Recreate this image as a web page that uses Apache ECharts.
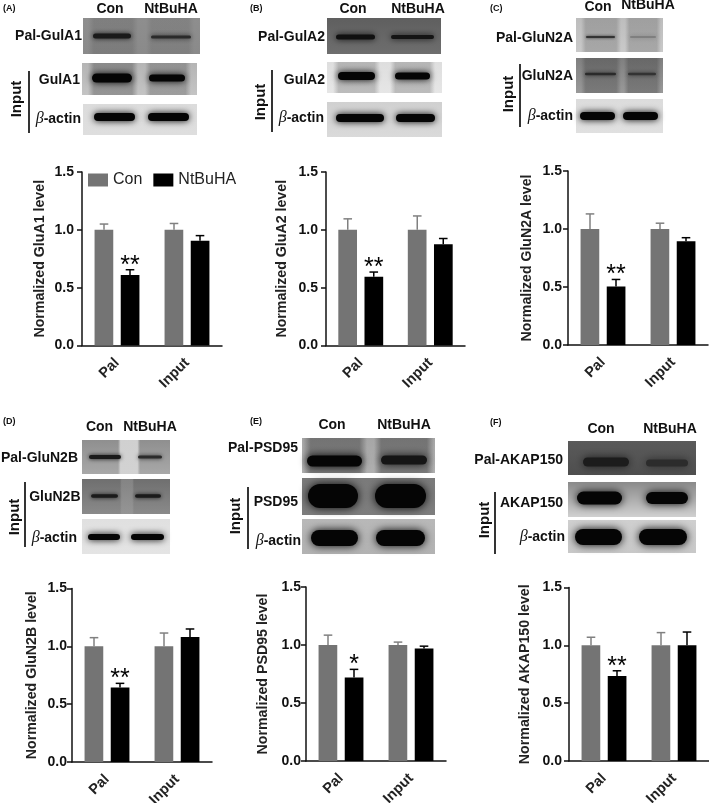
<!DOCTYPE html>
<html><head><meta charset="utf-8">
<style>html,body{margin:0;padding:0;background:#fff}#c{width:709px;height:803px}</style>
<script src="https://cdn.jsdelivr.net/npm/echarts@6/dist/echarts.min.js"></script>
</head><body><div id="c"></div>
<script>
// ---- data ----
const categories = ['Pal', 'Input'];
const yTicks = [0, 0.5, 1.0, 1.5];
const seriesNames = ['Con', 'NtBuHA'];

const gluA1Con = [1.0, 1.0],   gluA1Nt = [0.61, 0.905];
const gluA2Con = [1.0, 1.0],   gluA2Nt = [0.595, 0.875];
const gluN2ACon = [1.0, 1.0],  gluN2ANt = [0.505, 0.895];
const gluN2BCon = [1.0, 1.0],  gluN2BNt = [0.645, 1.08];
const psd95Con = [1.0, 1.0],   psd95Nt = [0.72, 0.97];
const akap150Con = [1.0, 1.0], akap150Nt = [0.735, 1.0];

const gluA1ConTop = [1.05, 1.055],  gluA1NtTop = [0.655, 0.95];
const gluA2ConTop = [1.095, 1.12],  gluA2NtTop = [0.635, 0.925];
const gluN2AConTop = [1.13, 1.05],  gluN2ANtTop = [0.565, 0.925];
const gluN2BConTop = [1.075, 1.115],gluN2BNtTop = [0.68, 1.15];
const psd95ConTop = [1.085, 1.025], psd95NtTop = [0.79, 0.99];
const akap150ConTop = [1.07, 1.11], akap150NtTop = [0.78, 1.115];

const gluA1Stars = ['**', ''], gluA2Stars = ['**', ''], gluN2AStars = ['**', ''];
const gluN2BStars = ['**', ''], psd95Stars = ['*', ''], akap150Stars = ['**', ''];

const yNames = ['Normalized GluA1 level','Normalized GluA2 level','Normalized GluN2A level',
                'Normalized GluN2B level','Normalized PSD95 level','Normalized AKAP150 level'];

// ---- layout of the plots ----
const panels = [
 {l:82,  t:172, w:140, h:173.5, gap:35, fs:14.2, m:8, con:gluA1Con,  nt:gluA1Nt,  ct:gluA1ConTop,  nb:gluA1NtTop,  s:gluA1Stars},
 {l:326, t:172, w:139, h:173.5, gap:37, fs:14.2, m:8, con:gluA2Con,  nt:gluA2Nt,  ct:gluA2ConTop,  nb:gluA2NtTop,  s:gluA2Stars},
 {l:568, t:171, w:140, h:174,   gap:34, fs:14.1, m:6, con:gluN2ACon, nt:gluN2ANt, ct:gluN2AConTop, nb:gluN2ANtTop, s:gluN2AStars},
 {l:72,  t:588.5,w:140,h:173.5, gap:33, fs:14.2, m:5, con:gluN2BCon, nt:gluN2BNt, ct:gluN2BConTop, nb:gluN2BNtTop, s:gluN2BStars},
 {l:306, t:587, w:140, h:174,   gap:36, fs:14.2, m:5, con:psd95Con,  nt:psd95Nt,  ct:psd95ConTop,  nb:psd95NtTop,  s:psd95Stars},
 {l:569, t:587.5,w:140,h:173.5, gap:37, fs:14.2, m:7, con:akap150Con,nt:akap150Nt,ct:akap150ConTop,nb:akap150NtTop,s:akap150Stars}
];
const GREY = '#747474', BLACK = '#000';
const FONT = '"Liberation Sans", Arial, sans-serif';
const BAR = 18.7, OFF = 13;

const grid=[],xAxis=[],yAxis=[],series=[];
function errRender(off,color){
  return function(params,api){
    const p = api.coord([api.value(0),api.value(1)]);
    const b = api.coord([api.value(0),api.value(2)]);
    const x = p[0]+off, y = p[1];
    const st = {stroke:color,lineWidth:1.5,fill:null};
    const kids = [
      {type:'line',shape:{x1:x,y1:y,x2:x,y2:b[1]},style:st},
      {type:'line',shape:{x1:x-4.3,y1:y,x2:x+4.3,y2:y},style:st}
    ];
    const sign = api.value(3);
    if(sign) kids.push({type:'text',style:{x:x,y:y-4,text:sign,fill:'#000',
        font:'400 25px '+FONT,align:'center',verticalAlign:'middle'}});
    return {type:'group',children:kids};
  };
}
panels.forEach((p,i)=>{
  grid.push({left:p.l,top:p.t,width:p.w,height:p.h,containLabel:false,outerBoundsMode:'none'});
  xAxis.push({gridIndex:i,type:'category',data:categories,
    axisLine:{lineStyle:{color:'#111',width:1.5}},
    axisTick:{alignWithLabel:true,length:5,lineStyle:{color:'#111',width:1.5}},
    axisLabel:{rotate:45,margin:15,interval:0,color:'#222',fontFamily:FONT,fontSize:14.5,fontWeight:'bold'}});
  yAxis.push({gridIndex:i,type:'value',min:yTicks[0],max:yTicks[yTicks.length-1],interval:0.5,
    name:yNames[i],nameLocation:'middle',nameGap:p.gap,nameRotate:90,
    nameTextStyle:{color:'#222',fontFamily:FONT,fontSize:p.fs,fontWeight:'bold'},
    splitLine:{show:false},
    axisLine:{show:true,lineStyle:{color:'#111',width:1.5}},
    axisTick:{show:true,length:5,lineStyle:{color:'#111',width:1.5}},
    axisLabel:{margin:p.m,color:'#111',fontFamily:FONT,fontSize:14,fontWeight:'bold',
      formatter:v=>v.toFixed(1)}});
  series.push({name:seriesNames[0],type:'bar',xAxisIndex:i,yAxisIndex:i,data:p.con,barWidth:BAR,barGap:'40%',
    itemStyle:{color:GREY},silent:true});
  series.push({name:seriesNames[1],type:'bar',xAxisIndex:i,yAxisIndex:i,data:p.nt,barWidth:BAR,barGap:'40%',
    itemStyle:{color:BLACK},silent:true});
  series.push({name:'err-con-'+i,type:'custom',xAxisIndex:i,yAxisIndex:i,silent:true,z:1,
    renderItem:errRender(-OFF,'#808080'),encode:{x:0,y:1},
    data:categories.map((c,k)=>[k,p.ct[k],p.con[k],''])});
  series.push({name:'err-nt-'+i,type:'custom',xAxisIndex:i,yAxisIndex:i,silent:true,z:1,
    renderItem:errRender(OFF,'#000'),encode:{x:0,y:1},
    data:categories.map((c,k)=>[k,p.nb[k],p.nt[k],p.s[k]])});
});

// ---- western-blot picture, drawn as decoration ----
const g=[];
function txt(x,y,t,o){o=o||{};
  g.push({type:'text',silent:true,x:x,y:y,rotation:o.rot||0,z:50,style:{text:t,fill:'#111',
    font:(o.weight||'bold')+' '+(o.size||14)+'px '+FONT,
    align:o.align||'right',verticalAlign:'middle'}});
}
function actin(x,y){
  g.push({type:'text',silent:true,x:x,y:y,z:50,style:{text:'{b|β}{t|-actin}',align:'right',verticalAlign:'middle',
    rich:{b:{font:'italic 16px "Liberation Serif", serif',fill:'#111'},t:{font:'bold 14px '+FONT,fill:'#111'}}}});
}
// soft lanes: [x, width, grey, alpha]
function blot(x,y,w,h,top,bottom,bands,lanes){
  g.push({type:'rect',silent:true,z:10,shape:{x:x,y:y,width:w,height:h},
    style:{fill:{type:'linear',x:0,y:0,x2:0,y2:1,colorStops:[{offset:0,color:top},{offset:1,color:bottom}]}}});
  (lanes||[]).forEach(l=>{
    const c=a=>'rgba('+l[2]+','+l[2]+','+l[2]+','+a+')';
    g.push({type:'rect',silent:true,z:11,shape:{x:l[0],y:y,width:l[1],height:h},
      style:{fill:{type:'linear',x:0,y:0,x2:1,y2:0,colorStops:[
        {offset:0,color:c(0)},{offset:0.12,color:c(l[3])},{offset:0.88,color:c(l[3])},{offset:1,color:c(0)}]}}});
  });
  bands.forEach(b=>{
    const col=b[4]||'#050505', blur=b[5]==null?7:b[5];
    g.push({type:'rect',silent:true,z:12,shape:{x:b[0],y:b[2]-b[3]/2,width:b[1],height:b[3],r:b[3]/2},
      style:{fill:col,shadowBlur:blur,shadowColor:col}});
  });
}
function vline(x,y1,y2){g.push({type:'line',silent:true,z:50,shape:{x1:x,y1:y1,x2:x,y2:y2},style:{stroke:'#000',lineWidth:1.6}});}
const INPUT={align:'center',rot:Math.PI/2,size:15};

// A
txt(3,9,'(A)',{align:'left',size:9});txt(110,9,'Con',{align:'center'});txt(171,9,'NtBuHA',{align:'center'});
blot(83,18,117,36,'#8e8e8e','#8a8a8a',[[93,38,36,5,'#1a1a1a',5],[151,40,37,3,'#2a2a2a',5]],[[88,50,60,.18],[146,48,60,.14]]);
blot(82,63,115,32,'#b5b5b5','#c4c4c4',[[92,40,78,9],[149,36,78,7]],[[88,50,40,.3],[145,46,40,.25]]);
blot(83,104,114,31,'#dcdcdc','#dedede',[[94,41,117,8],[148,41,117,8]]);
txt(82,36,'Pal-GulA1');txt(80,80,'GulA1');actin(81,119);txt(17,99,'Input',INPUT);vline(29,71,133);
// B
txt(250,9,'(B)',{align:'left',size:9});txt(353,9,'Con',{align:'center'});txt(418,9,'NtBuHA',{align:'center'});
blot(327,18,114,36,'#5f5f5f','#6e6e6e',[[336,39,37,5,'#101010',6],[391,43,37,4,'#141414',6]]);
blot(327,62,115,31,'#dedede','#e6e6e6',[[338,37,76,8],[395,35,76,7]],[[333,47,90,.3],[390,45,90,.3]]);
blot(327,102,115,35,'#d0d0d0','#dadada',[[336,48,118,8],[396,39,118,8]]);
txt(325,37,'Pal-GulA2');txt(325,80,'GulA2');actin(324,118);txt(261,102,'Input',INPUT);vline(272,70,132);
// C
txt(490,9,'(C)',{align:'left',size:9});txt(598,7,'Con',{align:'center'});txt(648,5,'NtBuHA',{align:'center'});
blot(576,18,87,34,'#bdbdbd','#c9c9c9',[[586,29,37,2,'#333',3],[630,26,37,1.5,'#777',4]],[[581,40,90,.3],[625,36,90,.3]]);
blot(576,58,87,35,'#7f7f7f','#999',[[585,31,74,2.5,'#2a2a2a',4],[628,28,74,2.5,'#333',4]],[[581,40,50,.3],[624,37,50,.3]]);
blot(576,99,87,34,'#dcdcdc','#e0e0e0',[[580,35,116,8],[623,35,116,8]]);
txt(573,38,'Pal-GluN2A');txt(573,76,'GluN2A');actin(573,116);txt(509,94,'Input',INPUT);vline(520,64,127);
// D
txt(3,422,'(D)',{align:'left',size:9});txt(99.5,427,'Con',{align:'center'});txt(150,427,'NtBuHA',{align:'center'});
blot(82,440,88,34,'#8f8f8f','#a8a8a8',[[89,32,457,4,'#1a1a1a',4],[138,24,457,3,'#2a2a2a',4]],[[118,22,215,.9]]);
blot(82,479,88,35,'#6f6f6f','#8a8a8a',[[91,27,496,3.5,'#1a1a1a',4],[135,26,496,3.5,'#1a1a1a',4]],[[120,14,170,.35]]);
blot(82,519,88,35,'#e0e0e0','#e4e4e4',[[88,32,537,6],[131,33,537,6]]);
txt(78,458,'Pal-GluN2B');txt(80.5,497,'GluN2B');actin(77,538);txt(15,517,'Input',INPUT);vline(25,482,547);
// E
txt(250,422,'(E)',{align:'left',size:9});txt(332,425,'Con',{align:'center'});txt(404,425,'NtBuHA',{align:'center'});
blot(302,438,133,35,'#a6a6a6','#b0b0b0',[[307,55,461,11,'#050505',8],[381,46,460,9,'#151515',8]],[[303,64,40,.4],[374,60,40,.4]]);
blot(302,478,133,37,'#7a7a7a','#7d7d7d',[[308,50,496,24,'#050505',10],[375,51,496,24,'#050505',10]]);
blot(302,519,133,35,'#b8b8b8','#b2b2b2',[[311,47,538,16,'#050505',9],[376,49,538,16,'#050505',9]]);
txt(298,448,'Pal-PSD95');txt(298,502,'PSD95');actin(301,541);txt(236,516,'Input',INPUT);vline(248,487,549);
// F
txt(490,423,'(F)',{align:'left',size:9});txt(601,429,'Con',{align:'center'});txt(670,429,'NtBuHA',{align:'center'});
blot(568,441,128,34,'#5a5a5a','#4e4e4e',[[583,46,462,9,'#1c1c1c',9],[646,42,463,7,'#2c2c2c',9]]);
blot(568,482,128,35,'#8a8a8a','#d0d0d0',[[577,45,498,13,'#050505',9],[646,42,498,12,'#050505',9]]);
blot(568,520,128,33,'#cfcfcf','#c8c8c8',[[575,47,537,16,'#050505',8],[639,48,537,16,'#050505',8]]);
txt(563,460,'Pal-AKAP150');txt(563,503,'AKAP150');actin(565,537);txt(485,520,'Input',INPUT);vline(495,492,554);

const chart=echarts.init(document.getElementById('c'),null,{renderer:'canvas'});
chart.setOption({
  animation:false,backgroundColor:'#fff',
  legend:{left:83,top:167,itemGap:11,itemWidth:20,itemHeight:13,selectedMode:false,data:seriesNames,
    outerBoundsMode:'none',icon:'rect',textStyle:{fontFamily:FONT,fontSize:16,color:'#222'}},
  grid,xAxis,yAxis,series,graphic:g
});
</script></body></html>
